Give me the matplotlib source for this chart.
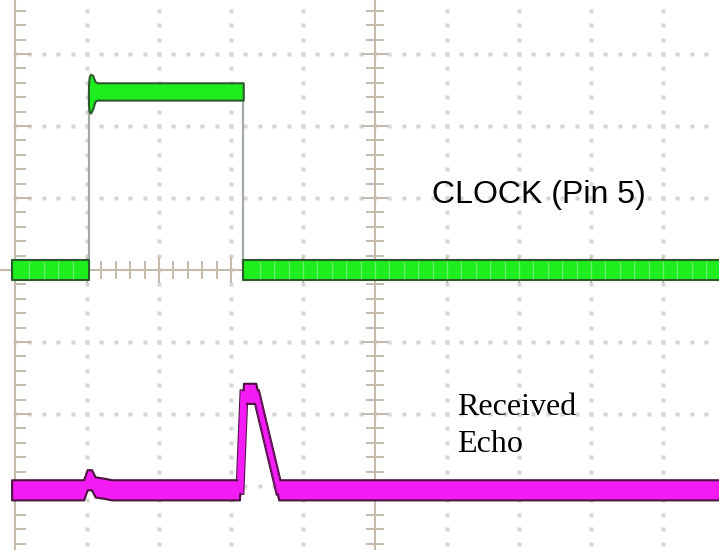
import matplotlib
matplotlib.use("Agg")
import numpy as np
import matplotlib.pyplot as plt
import matplotlib.patheffects as pe

plt.rcParams["path.simplify"] = False

# oscilloscope capture, units = screen divisions (centre of screen = 0, 0)
# clock (pin 5): edges and levels
clock_t = [-5.04, -3.97, -3.97, -1.83, -1.83, 4.95]
clock_v = [0.0, 0.0, 2.48, 2.48, 0.0, 0.0]
# envelope of the high level (includes the overshoot at the rising edge)
high_t = [-3.98, -3.97, -3.95, -3.92, -3.89, -3.86, -1.83]
high_top = [2.55, 2.68, 2.72, 2.70, 2.62, 2.60, 2.60]
high_bot = [2.30, 2.20, 2.18, 2.24, 2.34, 2.36, 2.36]
low_half = 0.14

# received echo (centre of the trace)
echo_t = [-5.04, -4.04, -3.99, -3.93, -3.88, -3.75, -3.65, -1.875, -1.82,
          -1.65, -1.33, 4.95]
echo_v = [-3.06, -3.06, -2.92, -2.92, -3.02, -3.04, -3.06, -3.06, -1.72,
          -1.72, -3.06, -3.06]
echo_half = 0.14

clock_label = "CLOCK (Pin 5)"
echo_label = ["Received", "Echo"]

PX = 72.0  # pixels per division
fig = plt.figure(figsize=(7.19, 5.5), dpi=100)
ax = fig.add_axes([0, 0, 1, 1])
ax.set_xlim(-375 / PX, 344 / PX)
ax.set_ylim(-280 / PX, 270 / PX)
ax.axis("off")

grid_c = "#d6d6d6"
axis_c = "#c4bbac"
minor = np.arange(-25, 26) / 5.0

# dotted graticule
for gx in range(-5, 6):
    if gx in (0, -5):
        continue
    ax.plot(np.full(minor.size, gx), minor, ls="none", marker="s", ms=2.2,
            mfc=grid_c, mec="none", zorder=1)
for gy in range(-4, 5):
    if gy == 0:
        continue
    ax.plot(minor, np.full(minor.size, gy), ls="none", marker="s", ms=2.2,
            mfc=grid_c, mec="none", zorder=1)

# centre cross and left border with ticks
ax.axvline(0, color=axis_c, lw=1.5, zorder=2)
ax.axhline(0, color=axis_c, lw=1.5, zorder=2)
ax.axvline(-5, color=axis_c, lw=1.5, zorder=2)
for m in minor:
    big = abs(m - round(m)) < 1e-6
    h = 0.17 if big else 0.11
    ax.plot([-h, h], [m, m], color=axis_c, lw=1.4, zorder=2)
    ax.plot([m, m], [-h, h], color=axis_c, lw=1.4, zorder=2)
    ax.plot([-5, -5 + 1.3 * h], [m, m], color=axis_c, lw=1.4, zorder=2)

# clock trace: thin grey edges, thick green levels
green, green_edge = "#1eee1e", "#2b5a2b"
ax.plot(clock_t, clock_v, color="#a3aca3", lw=1.6, zorder=3)
for i in range(len(clock_t) - 1):
    if clock_v[i] == clock_v[i + 1] and clock_v[i] == 0.0:
        seg = np.array(clock_t[i:i + 2])
        ax.fill_between(seg, -low_half, low_half, facecolor=green,
                        edgecolor=green_edge, lw=1.5, zorder=4)
        for m in minor:
            if seg[0] + 0.05 < m < seg[1] - 0.05:
                ax.plot([m, m], [-low_half + 0.03, low_half - 0.03],
                        color="#66f266", lw=1.0, zorder=5)
ax.fill_between(high_t, high_bot, high_top, facecolor=green,
                edgecolor=green_edge, lw=1.5, zorder=4)

# echo trace: band for the noise envelope, stroked flanks for the pulse
magenta, magenta_edge = "#f41cf4", "#4a1240"
ev = np.array(echo_v)
ax.plot(echo_t[6:11], echo_v[6:11], color=magenta, lw=5.0,
        solid_joinstyle="miter", zorder=4,
        path_effects=[pe.Stroke(linewidth=6.5, foreground=magenta_edge),
                      pe.Normal()])
ax.fill_between(echo_t, ev - echo_half, ev + echo_half, facecolor=magenta,
                edgecolor=magenta_edge, lw=1.5, zorder=4.5)
ax.plot(echo_t[6:11], echo_v[6:11], color=magenta, lw=3.5,
        solid_joinstyle="miter", zorder=4.6)

ax.text(57 / PX, 67 / PX, clock_label, family="Liberation Sans", fontsize=23,
        color="black", va="baseline", ha="left", zorder=6)
ax.text(82 / PX, -145 / PX, echo_label[0], family="Liberation Serif",
        fontsize=23, color="black", va="baseline", ha="left", zorder=6)
ax.text(82 / PX, -182 / PX, echo_label[1], family="Liberation Serif",
        fontsize=23, color="black", va="baseline", ha="left", zorder=6)

fig.savefig("out.png", dpi=100, facecolor="white")
